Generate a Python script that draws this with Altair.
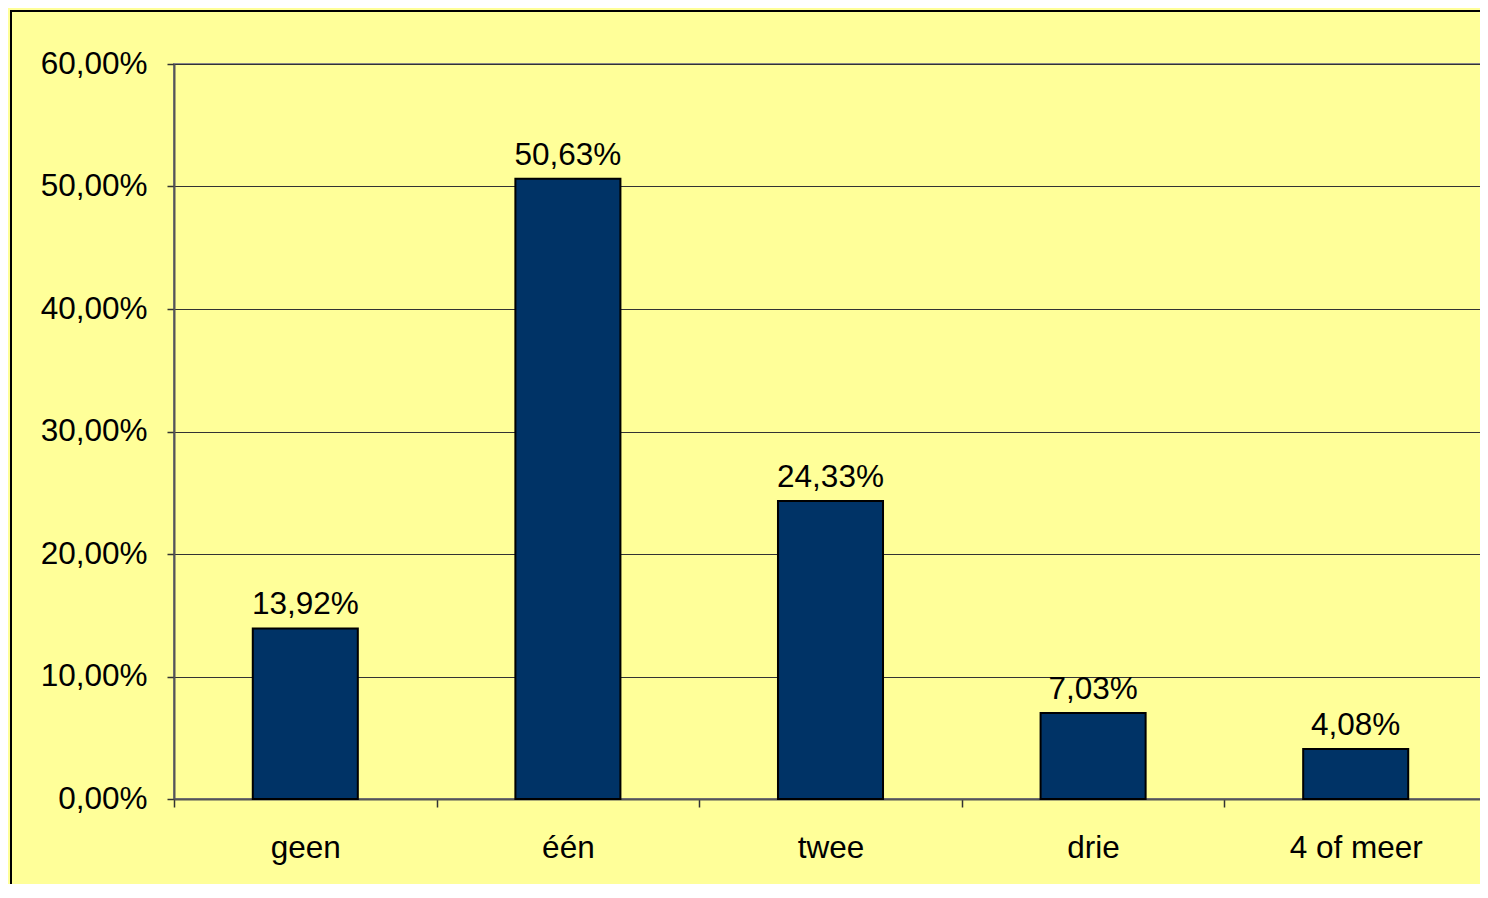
import altair as alt
import pandas as pd

categories = ["geen", "één", "twee", "drie", "4 of meer"]
percentages = [13.92, 50.63, 24.33, 7.03, 4.08]
y_ticks = [0, 10, 20, 30, 40, 50, 60]

df = pd.DataFrame({"cat": categories, "pct": percentages})
df["frac"] = df["pct"] / 100.0

FONT = "Liberation Sans"
FS = 31.5

x_enc = alt.X(
    "cat:N",
    sort=categories,
    scale=alt.Scale(paddingInner=0, paddingOuter=0),
    axis=alt.Axis(
        title=None,
        labelAngle=0,
        labelFont=FONT,
        labelFontSize=FS,
        labelColor="black",
        labelPadding=25,
        tickBand="extent",
        tickSize=8,
        tickColor="#333333",
        tickWidth=1.5,
        domainColor="#555555",
        domainWidth=2,
        grid=False,
    ),
)

y_enc = alt.Y(
    "frac:Q",
    scale=alt.Scale(domain=[0, 0.6], nice=False),
    axis=alt.Axis(
        title=None,
        values=[v / 100 for v in y_ticks],
        format=".2%",
        labelFont=FONT,
        labelFontSize=FS,
        labelColor="black",
        labelPadding=20,
        tickSize=7,
        tickColor="#333333",
        tickWidth=1.5,
        domainColor="#555555",
        domainWidth=2,
        grid=True,
        gridColor="#333333",
        gridWidth=1,
    ),
)

border = alt.Chart(pd.DataFrame({"a": [0]})).mark_rect(
    fill=None, stroke="black", strokeWidth=2
).encode(
    x=alt.value(-163), x2=alt.value(1400), y=alt.value(-53), y2=alt.value(900)
)

bars = alt.Chart(df).mark_bar(
    color="#003366", stroke="black", strokeWidth=2,
    width=alt.RelativeBandSize(0.4),
).encode(x=x_enc, y=y_enc)

labels = alt.Chart(df).mark_text(
    baseline="alphabetic", dy=-14, font=FONT, fontSize=FS, color="black"
).encode(
    x=alt.X("cat:N", sort=categories),
    y="frac:Q",
    text=alt.Text("frac:Q", format=".2%"),
)

chart = alt.layer(border, bars, labels).properties(
    width=1313,
    height=735,
    autosize=alt.AutoSizeParams(type="none"),
    padding={"left": 166, "top": 56, "right": -7, "bottom": 85},
    background="#FFFF99",
).configure(
    locale={"number": {"decimal": ",", "thousands": ".", "grouping": [3], "currency": ["€", ""]}}
).configure_view(
    stroke="#888888", strokeWidth=2
)

chart.save("out.html", embed_options={"renderer": "svg", "actions": False})
